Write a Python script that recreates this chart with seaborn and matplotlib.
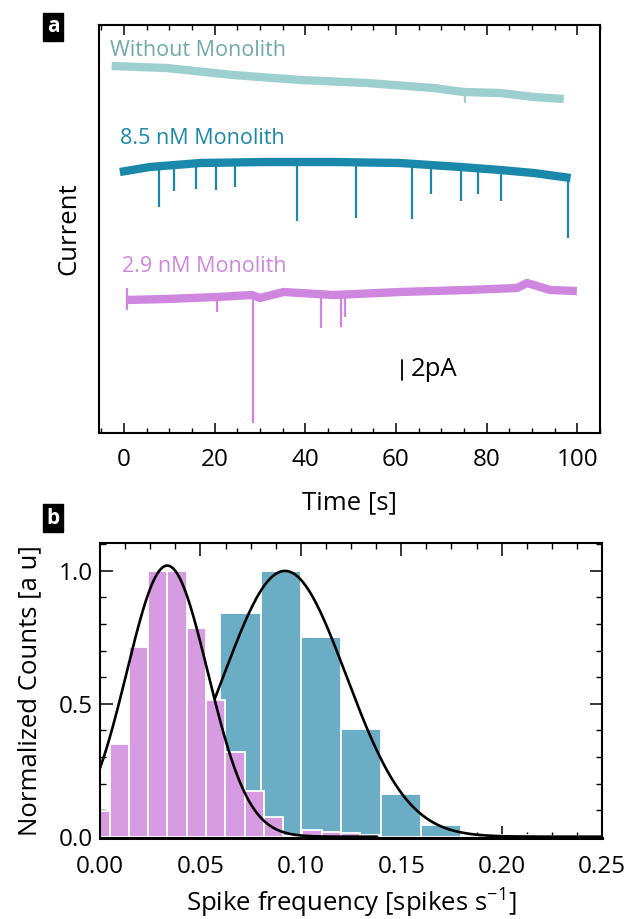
import numpy as np
import pandas as pd
import matplotlib
matplotlib.use("Agg")
import matplotlib.pyplot as plt
import seaborn as sns
from matplotlib.ticker import MultipleLocator, FormatStrFormatter

sns.set_theme(style="ticks")
plt.rcParams['font.family'] = ['Open Sans', 'DejaVu Sans']
plt.rcParams['text.color'] = 'black'
plt.rcParams['axes.labelcolor'] = 'black'
plt.rcParams['mathtext.fontset'] = 'custom'
plt.rcParams['mathtext.rm'] = 'Open Sans'
plt.rcParams['mathtext.it'] = 'Open Sans'

# ---------------- Panel a data (time in s, current in pA, offset traces) ----------------
without_t = [-2.7, 9.4, 24.1, 38.9, 53.6, 68.3, 74.9, 83.0, 90.4, 97.0]
without_i = [36.7, 36.5, 35.8, 35.3, 35.0, 34.5, 34.1, 34.0, 33.6, 33.4]
without_spike_t = [75.3]
without_spike_lo = [33.0]
without_spike_hi = [34.1]

nm85_t = [-0.9, 5.7, 16.8, 31.5, 46.2, 60.9, 74.2, 83.0, 90.4, 98.5]
nm85_i = [26.1, 26.6, 27.0, 27.1, 27.1, 27.0, 26.6, 26.3, 26.0, 25.5]
nm85_spike_t = [7.8, 11.0, 15.9, 20.2, 24.5, 38.1, 51.1, 63.5, 67.8, 74.3, 78.1, 83.1, 97.9]
nm85_spike_lo = [22.6, 24.2, 24.4, 24.3, 24.6, 21.2, 21.5, 21.4, 23.9, 23.2, 23.9, 23.2, 19.5]
nm85_spike_hi = [26.7, 26.8, 26.9, 27.0, 27.0, 27.1, 27.1, 27.0, 26.9, 26.6, 26.5, 26.3, 25.6]

nm29_t = [0.6, 9.4, 20.5, 28.2, 30.0, 35.2, 46.2, 60.9, 75.7, 86.7, 88.9, 94.0, 99.9]
nm29_i = [13.3, 13.4, 13.6, 13.8, 13.5, 14.1, 13.8, 14.1, 14.3, 14.5, 15.0, 14.3, 14.2]
nm29_spike_t = [0.6, 20.5, 28.4, 43.5, 47.8, 48.8]
nm29_spike_lo = [12.3, 12.1, 1.0, 10.5, 10.6, 11.6]
nm29_spike_hi = [14.5, 13.6, 13.8, 13.9, 13.9, 13.9]

trace_labels = ["Without Monolith", "8.5 nM Monolith", "2.9 nM Monolith"]
label_t = [-3.1, -0.9, -0.4]
label_i = [38.2, 29.5, 16.6]

# ---------------- Panel b data ----------------
pink_centers = [0.0, 0.0096, 0.0192, 0.0288, 0.0384, 0.0480, 0.0576, 0.0672,
                0.0768, 0.0864, 0.0960, 0.1056, 0.1152, 0.1248, 0.1344]
pink_counts = [0.095, 0.35, 0.713, 1.0, 1.0, 0.787, 0.514, 0.318,
               0.17, 0.073, 0.004, 0.026, 0.016, 0.012, 0.006]
pink_width = 0.0096

blue_centers = [0.07, 0.09, 0.11, 0.13, 0.15, 0.17, 0.19, 0.21, 0.23, 0.25]
blue_counts = [0.841, 1.0, 0.753, 0.406, 0.162, 0.043, 0.006, 0.005, 0.004, 0.004]
blue_width = 0.02

# Gaussian fit parameters (amplitude, centre, sigma, x-range)
pink_fit = dict(A=1.02, mu=0.0335, sigma=0.0202, xmin=0.0, xmax=0.138)
blue_fit = dict(A=1.0, mu=0.0921, sigma=0.0305, xmin=0.0573, xmax=0.25)

# ---------------- styles ----------------
c_without = "#9dcfcf"
c_without_txt = "#6fa9a9"
c_85 = "#1a88ab"
c_29 = "#cf86de"
c_blue = "#6badc4"
c_pink = "#d69be0"

fig = plt.figure(figsize=(6.34, 9.19), dpi=100)
axa = fig.add_axes([99/634, (919-433)/919, 501/634, 408/919])
axb = fig.add_axes([100/634, (919-838)/919, 502/634, 295/919])

# ---- panel a ----
for t, i, c in [(without_t, without_i, c_without), (nm85_t, nm85_i, c_85), (nm29_t, nm29_i, c_29)]:
    sns.lineplot(x=t, y=i, ax=axa, color=c, lw=6, sort=False, estimator=None,
                 solid_capstyle='butt', solid_joinstyle='round')
for st, lo, hi, c in [(without_spike_t, without_spike_lo, without_spike_hi, c_without),
                      (nm85_spike_t, nm85_spike_lo, nm85_spike_hi, c_85),
                      (nm29_spike_t, nm29_spike_lo, nm29_spike_hi, c_29)]:
    axa.vlines(st, lo, hi, colors=c, lw=1.6)

for lab, tx, ty, c in zip(trace_labels, label_t, label_i, [c_without_txt, c_85, c_29]):
    axa.text(tx, ty, lab, color=c, fontsize=15.5, ha='left', va='center')

# scale bar 2 pA
axa.plot([61.3, 61.3], [5.3, 7.3], color='black', lw=1.3)
axa.text(63.3, 6.3, "2pA", fontsize=18.5, ha='left', va='center', color='black')

axa.set_xlim(-5.5, 105)
axa.set_ylim(0, 40.8)
axa.set_yticks([])
axa.xaxis.set_major_locator(MultipleLocator(20))
axa.xaxis.set_minor_locator(MultipleLocator(5))
axa.tick_params(axis='x', which='both', direction='in', top=True, bottom=True,
                labelsize=17.5, pad=11, colors='black')
axa.tick_params(axis='x', which='major', length=7, width=1.1)
axa.tick_params(axis='x', which='minor', length=3.5, width=1.0)
axa.set_xlabel("Time [s]", fontsize=18.5)
axa.set_ylabel("Current", fontsize=18.5)
axa.xaxis.set_label_coords(0.5, -0.14)
axa.yaxis.set_label_coords(-0.036, 0.5)
for s in axa.spines.values():
    s.set_linewidth(1.5)
    s.set_color('black')

# ---- panel b ----
blue_edges = [c - blue_width/2 for c in blue_centers] + [blue_centers[-1] + blue_width/2]
pink_edges = [c - pink_width/2 for c in pink_centers] + [pink_centers[-1] + pink_width/2]
sns.histplot(x=blue_centers, weights=blue_counts, bins=blue_edges, ax=axb,
             color=c_blue, alpha=1, edgecolor='white', linewidth=1.3)
sns.histplot(x=pink_centers, weights=pink_counts, bins=pink_edges, ax=axb,
             color=c_pink, alpha=1, edgecolor='white', linewidth=1.3)

for fit in (pink_fit, blue_fit):
    xs = np.linspace(fit['xmin'], fit['xmax'], 300)
    ys = fit['A'] * np.exp(-(xs - fit['mu'])**2 / (2 * fit['sigma']**2))
    sns.lineplot(x=xs, y=ys, ax=axb, color='black', lw=1.9, sort=False, estimator=None)

axb.set_xlim(0, 0.25)
axb.set_ylim(-0.005, 1.105)
axb.xaxis.set_major_locator(MultipleLocator(0.05))
axb.xaxis.set_minor_locator(MultipleLocator(0.0125))
axb.yaxis.set_major_locator(MultipleLocator(0.5))
axb.yaxis.set_minor_locator(MultipleLocator(0.1))
axb.xaxis.set_major_formatter(FormatStrFormatter('%.2f'))
axb.yaxis.set_major_formatter(FormatStrFormatter('%.1f'))
axb.tick_params(which='both', direction='in', top=True, bottom=True, left=True, right=True,
                labelsize=17.5, colors='black')
axb.tick_params(axis='x', pad=12)
axb.tick_params(axis='y', pad=5)
axb.tick_params(which='major', length=9, width=1.1)
axb.tick_params(which='minor', length=4.5, width=1.0)
axb.set_xlabel("Spike frequency [spikes s$^{\\mathregular{-1}}$]", fontsize=18.5)
axb.set_ylabel("Normalized Counts [a u]", fontsize=18.5)
axb.xaxis.set_label_coords(0.5, -0.165)
axb.yaxis.set_label_coords(-0.115, 0.5)
for s in axb.spines.values():
    s.set_linewidth(1.5)
    s.set_color('black')
axb.spines['bottom'].set_linewidth(2.2)

# panel letters
for lab, yb in [("a", 919-40), ("b", 919-531)]:
    fig.text(53/634, (yb+13)/919, lab, color='white', fontsize=15, fontweight='bold',
             ha='center', va='center',
             bbox=dict(boxstyle='square,pad=0.18', fc='black', ec='black'))

fig.savefig("out.png", dpi=100)
